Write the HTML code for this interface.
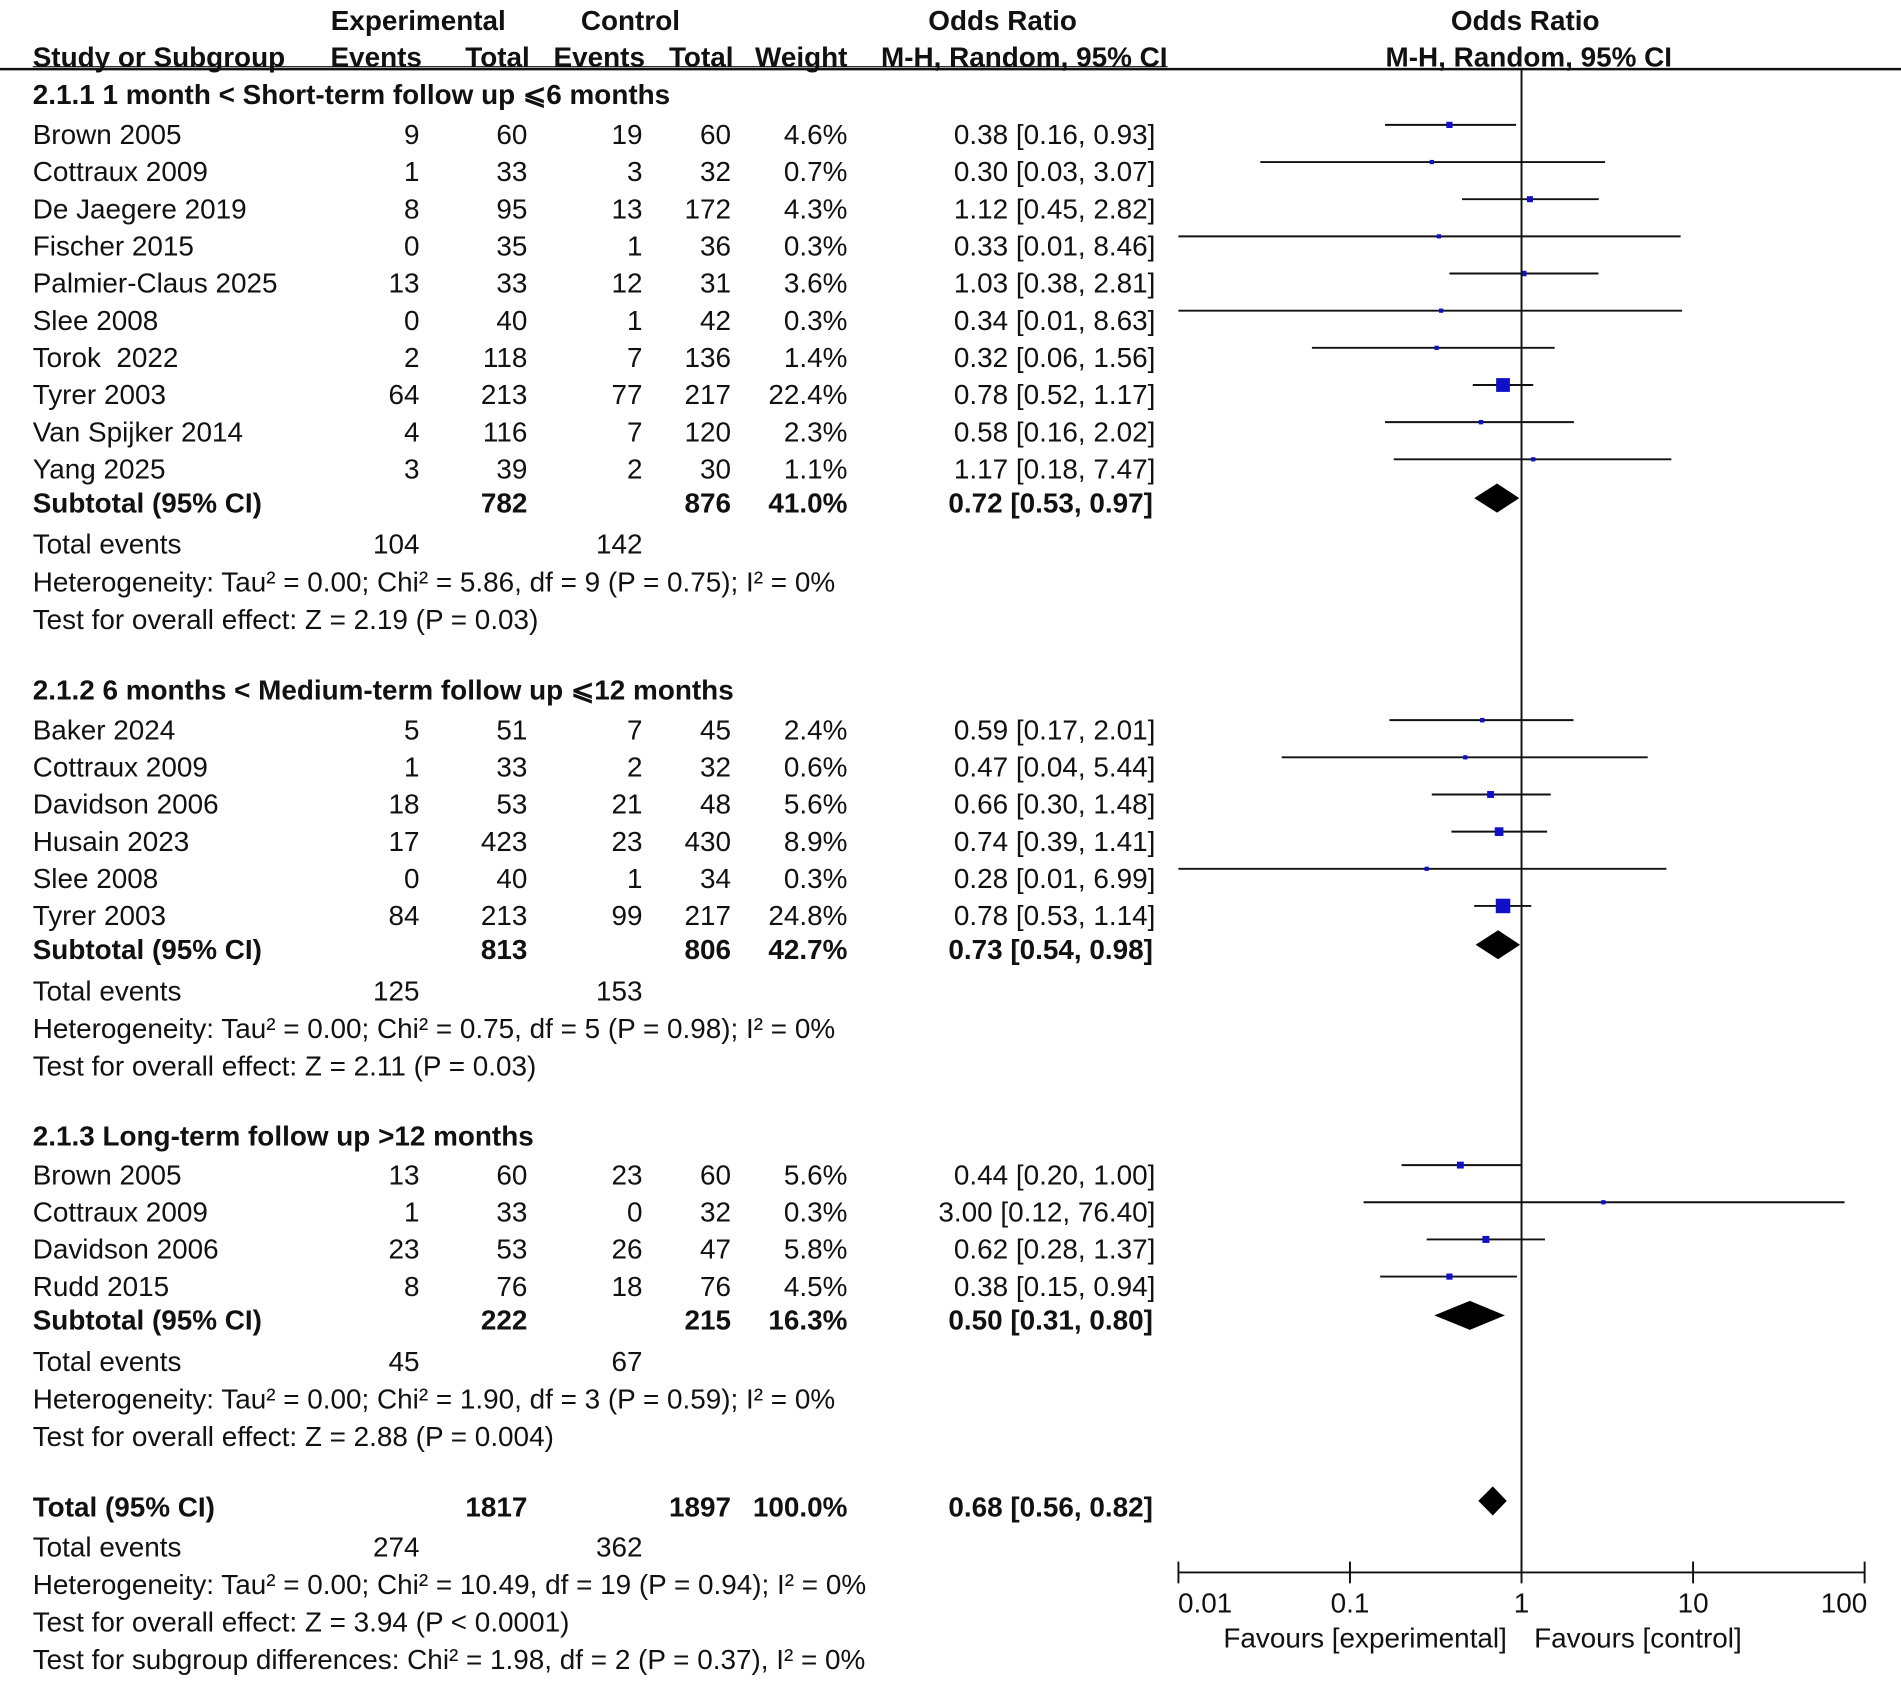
<!DOCTYPE html>
<html><head><meta charset="utf-8"><style>
html,body{margin:0;padding:0;background:#fff}
svg{display:block}
text{font-family:"Liberation Sans","Noto Sans CJK SC",sans-serif;font-size:23px;fill:#111;dominant-baseline:central;white-space:pre}
.b{font-weight:bold}
</style></head><body>
<svg id="plot" width="1901" height="1684" viewBox="0 0 1568 1389" xmlns="http://www.w3.org/2000/svg" xml:space="preserve">
<g id="hdr">
<text class="b" x="345" y="17" text-anchor="middle">Experimental</text>
<text class="b" x="520" y="17" text-anchor="middle">Control</text>
<text class="b" x="827" y="17" text-anchor="middle">Odds Ratio</text>
<text class="b" x="1258" y="17" text-anchor="middle">Odds Ratio</text>
<text class="b" x="27" y="47">Study or Subgroup</text>
<text class="b" x="348" y="47" text-anchor="end">Events</text>
<text class="b" x="437" y="47" text-anchor="end">Total</text>
<text class="b" x="532" y="47" text-anchor="end">Events</text>
<text class="b" x="605" y="47" text-anchor="end">Total</text>
<text class="b" x="699" y="47" text-anchor="end">Weight</text>
<text class="b" x="963" y="47" text-anchor="end">M-H, Random, 95% CI</text>
<text class="b" x="1261" y="47" text-anchor="middle">M-H, Random, 95% CI</text>
<line x1="0" y1="57" x2="1568" y2="57" stroke="#111" stroke-width="2"/>
<line x1="27" y1="55" x2="963" y2="55" stroke="#111" stroke-width="1"/>
</g>
<g id="rows"></g>
<g id="marks"></g>
<g id="axis"></g>
</svg>
<script>
const studies=["Brown 2005","Cottraux 2009","De Jaegere 2019","Fischer 2015","Palmier-Claus 2025","Slee 2008","Torok  2022","Tyrer 2003","Van Spijker 2014","Yang 2025","Baker 2024","Cottraux 2009","Davidson 2006","Husain 2023","Slee 2008","Tyrer 2003","Brown 2005","Cottraux 2009","Davidson 2006","Rudd 2015"];
const studyGroup=[1,1,1,1,1,1,1,1,1,1,2,2,2,2,2,2,3,3,3,3];
const expEvents=[9,1,8,0,13,0,2,64,4,3,5,1,18,17,0,84,13,1,23,8];
const expTotal=[60,33,95,35,33,40,118,213,116,39,51,33,53,423,40,213,60,33,53,76];
const ctrlEvents=[19,3,13,1,12,1,7,77,7,2,7,2,21,23,1,99,23,0,26,18];
const ctrlTotal=[60,32,172,36,31,42,136,217,120,30,45,32,48,430,34,217,60,32,47,76];
const weights=[4.6,0.7,4.3,0.3,3.6,0.3,1.4,22.4,2.3,1.1,2.4,0.6,5.6,8.9,0.3,24.8,5.6,0.3,5.8,4.5];
const orEst=[0.38,0.30,1.12,0.33,1.03,0.34,0.32,0.78,0.58,1.17,0.59,0.47,0.66,0.74,0.28,0.78,0.44,3.00,0.62,0.38];
const ciLow=[0.16,0.03,0.45,0.01,0.38,0.01,0.06,0.52,0.16,0.18,0.17,0.04,0.30,0.39,0.01,0.53,0.20,0.12,0.28,0.15];
const ciHigh=[0.93,3.07,2.82,8.46,2.81,8.63,1.56,1.17,2.02,7.47,2.01,5.44,1.48,1.41,6.99,1.14,1.00,76.40,1.37,0.94];
const groupTitles=["2.1.1 1 month < Short-term follow up ⩽6 months","2.1.2 6 months < Medium-term follow up ⩽12 months","2.1.3 Long-term follow up >12 months"];
const subExpTotal=[782,813,222], subCtrlTotal=[876,806,215], subWeight=["41.0%","42.7%","16.3%"];
const subOR=[0.72,0.73,0.50], subLow=[0.53,0.54,0.31], subHigh=[0.97,0.98,0.80];
const subExpEv=[104,125,45], subCtrlEv=[142,153,67];
const subHet=["Heterogeneity: Tau² = 0.00; Chi² = 5.86, df = 9 (P = 0.75); I² = 0%","Heterogeneity: Tau² = 0.00; Chi² = 0.75, df = 5 (P = 0.98); I² = 0%","Heterogeneity: Tau² = 0.00; Chi² = 1.90, df = 3 (P = 0.59); I² = 0%"];
const subTest=["Test for overall effect: Z = 2.19 (P = 0.03)","Test for overall effect: Z = 2.11 (P = 0.03)","Test for overall effect: Z = 2.88 (P = 0.004)"];
const totalOR=0.68, totalLow=0.56, totalHigh=0.82;
const axisTicks=[0.01,0.1,1,10,100];
const axisTickLabels=["0.01","0.1","1","10","100"];

const NS="http://www.w3.org/2000/svg";
const CX=1255, DEC=141.5, XMIN=0.01, XMAX=100;
function xs(v){v=Math.max(XMIN,Math.min(XMAX,v));return CX+DEC*Math.log10(v);}
const rowsG=document.getElementById('rows'), marksG=document.getElementById('marks'), axG=document.getElementById('axis');
function txt(parent,x,y,s,anchor,bold,name){
  const t=document.createElementNS(NS,'text');
  t.setAttribute('x',x);t.setAttribute('y',y);
  if(anchor)t.setAttribute('text-anchor',anchor);
  if(bold)t.setAttribute('class','b');
  t.textContent=s;
  
  
  parent.appendChild(t);return t;
}
function el(parent,tag,attrs){const e=document.createElementNS(NS,tag);for(const k in attrs)e.setAttribute(k,attrs[k]);parent.appendChild(e);return e;}
function diamond(y,o,l,h,name){
  const p=el(marksG,'polygon',{points:`${xs(l)},${y} ${xs(o)},${y-12} ${xs(h)},${y} ${xs(o)},${y+12}`,fill:'#000'});
  
  
}
const f2=v=>v.toFixed(2);
const sectY=[78,569,937], rowStart=[111,602,969], step=30.65;
for(let g=0;g<3;g++){
  txt(rowsG,27,sectY[g],groupTitles[g],null,true,'subgroup-title');
  let y=rowStart[g], k=0;
  for(let i=0;i<studies.length;i++){ if(studyGroup[i]!==g+1)continue;
    y=rowStart[g]+k*step; k++;
    txt(rowsG,27,y,studies[i],null,false,'study-name');
    txt(rowsG,346,y,expEvents[i],'end',false,'exp-events');
    txt(rowsG,435,y,expTotal[i],'end',false,'exp-total');
    txt(rowsG,530,y,ctrlEvents[i],'end',false,'ctrl-events');
    txt(rowsG,603,y,ctrlTotal[i],'end',false,'ctrl-total');
    txt(rowsG,699,y,weights[i].toFixed(1)+'%','end',false,'weight');
    txt(rowsG,953,y,`${f2(orEst[i])} [${f2(ciLow[i])}, ${f2(ciHigh[i])}]`,'end',false,'odds-ratio-ci');
    const ln=el(marksG,'line',{x1:xs(ciLow[i]),x2:xs(ciHigh[i]),y1:y-8,y2:y-8,stroke:'#111','stroke-width':1.6});
    
    
    const s=Math.max(3.5,Math.sqrt(weights[i])*2.4);
    const sq=el(marksG,'rect',{x:xs(orEst[i])-s/2,y:y-8-s/2,width:s,height:s,fill:'#1010c8'});
    
    
  }
  const sy=y+28;
  txt(rowsG,27,sy,'Subtotal (95% CI)',null,true,'subtotal-label');
  txt(rowsG,435,sy,subExpTotal[g],'end',true,'subtotal-exp');
  txt(rowsG,603,sy,subCtrlTotal[g],'end',true,'subtotal-ctrl');
  txt(rowsG,699,sy,subWeight[g],'end',true,'subtotal-weight');
  txt(rowsG,951,sy,`${f2(subOR[g])} [${f2(subLow[g])}, ${f2(subHigh[g])}]`,'end',true,'subtotal-or');
  diamond(sy-4,subOR[g],subLow[g],subHigh[g],'subtotal-diamond');
  txt(rowsG,27,sy+34,'Total events',null,false,'total-events');
  txt(rowsG,346,sy+34,subExpEv[g],'end',false,'exp-events-sum');
  txt(rowsG,530,sy+34,subCtrlEv[g],'end',false,'ctrl-events-sum');
  txt(rowsG,27,sy+65,subHet[g],null,false,'heterogeneity');
  txt(rowsG,27,sy+96,subTest[g],null,false,'overall-effect');
}
txt(rowsG,27,1243,'Total (95% CI)',null,true,'total-label');
txt(rowsG,435,1243,'1817','end',true,'total-exp');
txt(rowsG,603,1243,'1897','end',true,'total-ctrl');
txt(rowsG,699,1243,'100.0%','end',true,'total-weight');
txt(rowsG,951,1243,`${f2(totalOR)} [${f2(totalLow)}, ${f2(totalHigh)}]`,'end',true,'total-or');
diamond(1238,totalOR,totalLow,totalHigh,'total-diamond');
txt(rowsG,27,1276,'Total events',null,false,'total-events');
txt(rowsG,346,1276,'274','end',false,'exp-events-sum');
txt(rowsG,530,1276,'362','end',false,'ctrl-events-sum');
txt(rowsG,27,1307,'Heterogeneity: Tau² = 0.00; Chi² = 10.49, df = 19 (P = 0.94); I² = 0%',null,false,'heterogeneity');
txt(rowsG,27,1338,'Test for overall effect: Z = 3.94 (P < 0.0001)',null,false,'overall-effect');
txt(rowsG,27,1369,'Test for subgroup differences: Chi² = 1.98, df = 2 (P = 0.37), I² = 0%',null,false,'subgroup-differences');
const AY=1297;
const vl=el(axG,'line',{x1:xs(1),x2:xs(1),y1:57,y2:AY,stroke:'#111','stroke-width':1.6});


const al=el(axG,'line',{x1:xs(axisTicks[0]),x2:xs(axisTicks[axisTicks.length-1]),y1:AY,y2:AY,stroke:'#111','stroke-width':1.6});


axisTicks.forEach((t,i)=>{
  const tk=el(axG,'line',{x1:xs(t),x2:xs(t),y1:AY-9,y2:AY+9,stroke:'#111','stroke-width':1.6});
  
  
  let x=xs(t); if(i===0)x+=22; if(i===axisTicks.length-1)x-=17;
  txt(axG,x,1322,axisTickLabels[i],'middle',false,'tick-label');
});
txt(axG,1126,1351,'Favours [experimental]','middle',false,'favours-experimental');
txt(axG,1351,1351,'Favours [control]','middle',false,'favours-control');
</script>
</body></html>
